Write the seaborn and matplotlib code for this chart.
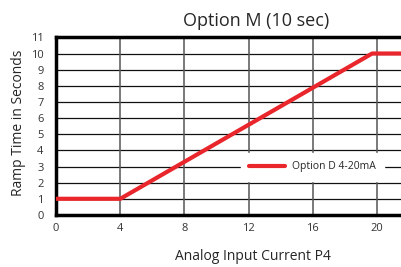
import matplotlib
matplotlib.use("Agg")
import matplotlib.pyplot as plt
import seaborn as sns
import pandas as pd

# data
current_ma = [0, 4, 19.7, 21.5]
ramp_sec = [1, 1, 10, 10]
x_ticks = [0, 4, 8, 12, 16, 20]
y_ticks = list(range(0, 12))

sns.set_style("white")
plt.rcParams["font.family"] = ["Open Sans", "DejaVu Sans"]

df = pd.DataFrame({"current": current_ma, "ramp": ramp_sec})

fig = plt.figure(figsize=(4.01, 2.67), dpi=100)
ax = fig.add_axes([0.14, 0.195, 0.86, 0.665])

sns.lineplot(data=df, x="current", y="ramp", ax=ax, color="#e8262b",
             linewidth=3, label="Option D 4-20mA", zorder=3)

ax.set_xlim(0, 21.5)
ax.set_ylim(0, 11)
ax.set_xticks(x_ticks)
ax.set_yticks(y_ticks)
ax.tick_params(labelsize=8, length=0, colors="#333333")
ax.tick_params(axis="y", pad=9)
ax.tick_params(axis="x", pad=6)

# grid: black horizontals, grey verticals
for y in y_ticks[1:]:
    ax.axhline(y, color="#111111", lw=0.9, zorder=1)
for x in x_ticks[1:]:
    ax.axvline(x, color="#555555", lw=1.1, zorder=1)

for side in ["left", "bottom", "top"]:
    ax.spines[side].set_linewidth(2.5)
    ax.spines[side].set_color("black")
ax.spines["right"].set_visible(False)

ax.set_xlabel("Analog Input Current P4", fontsize=10)
ax.xaxis.set_label_coords(0.57, -0.19)
ax.set_ylabel("Ramp Time in Seconds", fontsize=10)
ax.yaxis.set_label_coords(-0.088, 0.52)
ax.set_title("Option M (10 sec)", fontsize=13, pad=8, x=0.58)

leg = ax.legend(loc="center left", bbox_to_anchor=(0.52, 0.27), frameon=True,
                fontsize=7.5, handlelength=3.5, borderpad=0.8, handletextpad=0.6)
leg.get_frame().set_edgecolor("white")
leg.get_frame().set_facecolor("white")
leg.get_frame().set_alpha(1)
leg.get_frame().set_boxstyle("square", pad=0)

fig.savefig("out.png", dpi=100)
